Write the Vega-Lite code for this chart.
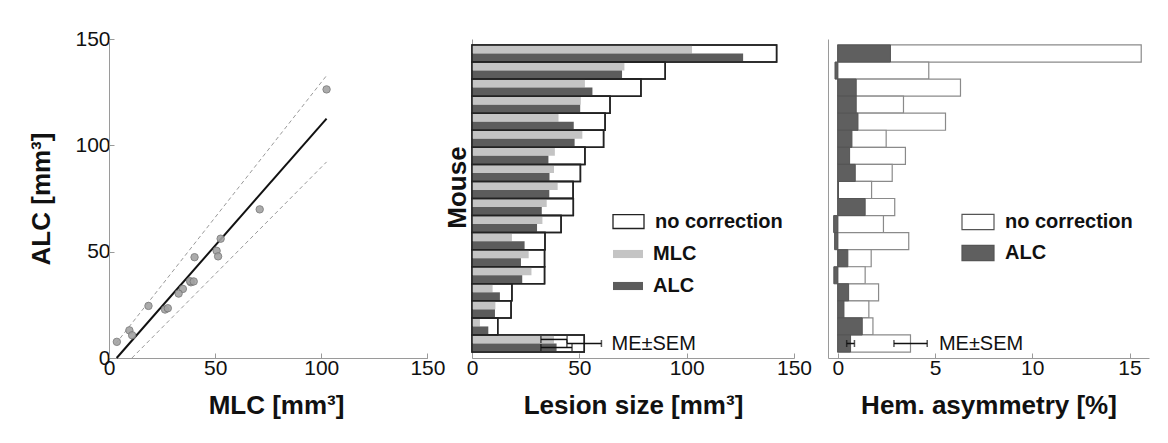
{
  "$schema": "https://vega.github.io/schema/vega-lite/v6.json",
  "background": "white",
  "padding": {"left": 28, "top": 28, "right": 5, "bottom": 5},
  "bounds": "flush",
  "spacing": 34,
  "datasets": {
    "mice": [
      {"mouse": "1", "NC": 141.9, "MLC": 102.5, "ALC": 126.3, "HNC": 15.6, "HALC": 2.71},
      {"mouse": "2", "NC": 90.0, "MLC": 71.0, "ALC": 69.9, "HNC": 4.68, "HALC": -0.14},
      {"mouse": "3", "NC": 78.7, "MLC": 52.6, "ALC": 56.1, "HNC": 6.31, "HALC": 0.95},
      {"mouse": "4", "NC": 64.3, "MLC": 50.7, "ALC": 50.4, "HNC": 3.38, "HALC": 0.95},
      {"mouse": "5", "NC": 62.0, "MLC": 40.3, "ALC": 47.4, "HNC": 5.54, "HALC": 1.04},
      {"mouse": "6", "NC": 61.3, "MLC": 51.4, "ALC": 47.8, "HNC": 2.49, "HALC": 0.73},
      {"mouse": "7", "NC": 52.6, "MLC": 38.6, "ALC": 35.6, "HNC": 3.48, "HALC": 0.61},
      {"mouse": "8", "NC": 50.5, "MLC": 38.2, "ALC": 36.1, "HNC": 2.8, "HALC": 0.9},
      {"mouse": "9", "NC": 47.1, "MLC": 39.9, "ALC": 36.0, "HNC": 1.74, "HALC": 0.04},
      {"mouse": "10", "NC": 47.2, "MLC": 34.8, "ALC": 32.5, "HNC": 2.93, "HALC": 1.41},
      {"mouse": "11", "NC": 41.5, "MLC": 32.8, "ALC": 30.3, "HNC": 2.35, "HALC": -0.21},
      {"mouse": "12", "NC": 34.0, "MLC": 18.6, "ALC": 24.5, "HNC": 3.65, "HALC": -0.16},
      {"mouse": "13", "NC": 33.8, "MLC": 26.4, "ALC": 22.8, "HNC": 1.72, "HALC": 0.52},
      {"mouse": "14", "NC": 33.8, "MLC": 27.7, "ALC": 23.4, "HNC": 1.41, "HALC": -0.2},
      {"mouse": "15", "NC": 18.6, "MLC": 9.6, "ALC": 13.0, "HNC": 2.1, "HALC": 0.56},
      {"mouse": "16", "NC": 18.2, "MLC": 10.9, "ALC": 10.7, "HNC": 1.6, "HALC": 0.32},
      {"mouse": "17", "NC": 12.0, "MLC": 3.7, "ALC": 7.6, "HNC": 1.81, "HALC": 1.26},
      {"mouse": "ME", "NC": 52.3, "MLC": 38.2, "ALC": 39.4, "HNC": 3.74, "HALC": 0.66}
    ],
    "lines": [
      {"line": "fit", "x": 3.6, "y": 0},
      {"line": "fit", "x": 102.5, "y": 112.6},
      {"line": "upper", "x": 3.2, "y": 6.7},
      {"line": "upper", "x": 102.5, "y": 132.8},
      {"line": "lower", "x": 10.8, "y": 0},
      {"line": "lower", "x": 102.5, "y": 92.2}
    ],
    "errMid": [
      {"mouse": "ME", "series": "MLC", "lo": 32.1, "hi": 44.3},
      {"mouse": "ME", "series": "ALC", "lo": 32.1, "hi": 46.6},
      {"mouse": "ME", "series": "no correction", "lo": 44.2, "hi": 60.3}
    ],
    "errRight": [
      {"mouse": "ME", "series": "ALC", "lo": 0.46, "hi": 0.86},
      {"mouse": "ME", "series": "no correction", "lo": 2.89, "hi": 4.6}
    ],
    "notes": [
      {"mouse": "ME", "panel": "mid", "x": 65, "label": "ME±SEM"},
      {"mouse": "ME", "panel": "right", "x": 5.2, "label": "ME±SEM"}
    ]
  },
  "config": {
    "font": "Liberation Sans",
    "view": {"stroke": null},
    "axis": {
      "grid": false,
      "domainColor": "#9a9a9a",
      "tickColor": "#9a9a9a",
      "tickSize": -5,
      "labelFont": "Liberation Sans",
      "labelFontSize": 21,
      "labelColor": "#111111",
      "labelPadding": 4,
      "labelFlush": false,
      "labelOverlap": false,
      "titleFont": "Liberation Sans",
      "titleFontSize": 26,
      "titleFontWeight": "bold",
      "titleColor": "#111111"
    },
    "legend": {
      "labelFont": "Liberation Sans",
      "labelFontSize": 20,
      "labelFontWeight": "bold",
      "labelColor": "#111111",
      "labelOffset": 10,
      "padding": 0,
      "rowPadding": 2,
      "title": null
    }
  },
  "resolve": {
    "scale": {"fill": "independent", "stroke": "independent", "yOffset": "independent", "x": "independent", "y": "independent"},
    "legend": {"fill": "independent", "stroke": "independent"}
  },
  "hconcat": [
    {
      "width": 329,
      "height": 319,
      "layer": [
        {
          "data": {"name": "lines"},
          "transform": [{"filter": "datum.line !== 'fit'"}],
          "mark": {"type": "line", "stroke": "#9a9a9a", "strokeWidth": 1, "strokeDash": [4, 3]},
          "encoding": {
            "x": {"field": "x", "type": "quantitative", "scale": {"domain": [0, 150], "range": [0, 318.4], "nice": false},
                  "axis": {"values": [0, 50, 100, 150], "title": "MLC [mm³]", "titlePadding": 14, "titleX": 167}},
            "y": {"field": "y", "type": "quantitative", "scale": {"domain": [0, 150], "nice": false},
                  "axis": {"values": [0, 50, 100, 150], "title": "ALC [mm³]", "titlePadding": 20}},
            "detail": {"field": "line"}
          }
        },
        {
          "data": {"name": "lines"},
          "transform": [{"filter": "datum.line === 'fit'"}],
          "mark": {"type": "line", "stroke": "#111111", "strokeWidth": 2},
          "encoding": {
            "x": {"field": "x", "type": "quantitative"},
            "y": {"field": "y", "type": "quantitative"}
          }
        },
        {
          "data": {"name": "mice"},
          "transform": [{"filter": "datum.mouse !== 'ME'"}],
          "mark": {"type": "circle", "size": 55, "fill": "#a3a3a3", "stroke": "#7a7a7a", "strokeWidth": 1, "opacity": 0.9},
          "encoding": {
            "x": {"field": "MLC", "type": "quantitative"},
            "y": {"field": "ALC", "type": "quantitative"}
          }
        }
      ]
    },
    {
      "width": 322,
      "height": 319,
      "layer": [
        {
          "data": {"name": "mice"},
          "mark": {"type": "bar", "fill": "#ffffff", "strokeWidth": 1.5},
          "encoding": {
            "y": {"field": "mouse", "type": "nominal", "sort": null,
                  "scale": {"domain": ["1","2","3","4","5","6","7","8","9","10","11","12","13","14","15","16","17","ME"], "paddingInner": 0, "paddingOuter": 0.35},
                  "axis": {"title": "Mouse", "labels": false, "ticks": false, "titlePadding": 2, "titleY": 148}},
            "x": {"field": "NC", "type": "quantitative", "scale": {"domain": [0, 150], "nice": false},
                  "axis": {"values": [0, 50, 100, 150], "title": "Lesion size [mm³]", "titlePadding": 14}},
            "stroke": {"datum": "no correction", "type": "nominal",
                       "scale": {"domain": ["no correction"], "range": ["#222222"]},
                       "legend": {"title": null, "orient": "none", "legendX": 140, "legendY": 166, "symbolSize": 961,
                                  "symbolType": "M-1,-0.45H1V0.45H-1Z", "symbolFillColor": "#ffffff", "symbolStrokeWidth": 1.3}}
          }
        },
        {
          "data": {"name": "mice"},
          "transform": [{"fold": ["MLC", "ALC"], "as": ["series", "value"]}],
          "mark": {"type": "bar"},
          "encoding": {
            "y": {"field": "mouse", "type": "nominal", "sort": null},
            "yOffset": {"field": "series", "type": "nominal", "sort": null, "scale": {"domain": ["MLC", "ALC"], "paddingInner": 0, "paddingOuter": 0.05}},
            "x": {"field": "value", "type": "quantitative"},
            "fill": {"field": "series", "type": "nominal",
                     "scale": {"domain": ["MLC", "ALC"], "range": ["#c4c4c4", "#5c5c5c"]},
                     "legend": {"title": null, "orient": "none", "legendX": 141, "legendY": 200, "symbolSize": 900, "rowPadding": 7,
                                "symbolType": "M-1,-0.27H1V0.27H-1Z", "symbolStrokeWidth": 0}}
          }
        },
        {
          "data": {"name": "mice"},
          "mark": {"type": "bar", "fillOpacity": 0, "stroke": "#222222", "strokeWidth": 1.5},
          "encoding": {
            "y": {"field": "mouse", "type": "nominal", "sort": null},
            "x": {"field": "NC", "type": "quantitative"}
          }
        },
        {
          "data": {"name": "errMid"},
          "transform": [{"filter": "datum.series !== 'no correction'"}],
          "mark": {"type": "rule", "color": "#111111", "strokeWidth": 1.5},
          "encoding": {
            "y": {"field": "mouse", "type": "nominal", "sort": null},
            "yOffset": {"field": "series", "type": "nominal", "sort": null},
            "x": {"field": "lo", "type": "quantitative"},
            "x2": {"field": "hi"}
          }
        },
        {
          "data": {"name": "errMid"},
          "transform": [{"filter": "datum.series !== 'no correction'"}, {"fold": ["lo", "hi"], "as": ["end", "xv"]}],
          "mark": {"type": "tick", "color": "#111111", "thickness": 1.5, "size": 7},
          "encoding": {
            "y": {"field": "mouse", "type": "nominal", "sort": null},
            "yOffset": {"field": "series", "type": "nominal", "sort": null},
            "x": {"field": "xv", "type": "quantitative"}
          }
        },
        {
          "data": {"name": "errMid"},
          "transform": [{"filter": "datum.series === 'no correction'"}],
          "mark": {"type": "rule", "color": "#111111", "strokeWidth": 1.5},
          "encoding": {
            "y": {"field": "mouse", "type": "nominal", "sort": null},
            "x": {"field": "lo", "type": "quantitative"},
            "x2": {"field": "hi"}
          }
        },
        {
          "data": {"name": "errMid"},
          "transform": [{"filter": "datum.series === 'no correction'"}, {"fold": ["lo", "hi"], "as": ["end", "xv"]}],
          "mark": {"type": "tick", "color": "#111111", "thickness": 1.5, "size": 7},
          "encoding": {
            "y": {"field": "mouse", "type": "nominal", "sort": null},
            "x": {"field": "xv", "type": "quantitative"}
          }
        },
        {
          "data": {"name": "notes"},
          "transform": [{"filter": "datum.panel === 'mid'"}],
          "mark": {"type": "text", "align": "left", "baseline": "middle", "fontSize": 20, "color": "#111111", "font": "Liberation Sans"},
          "encoding": {
            "y": {"field": "mouse", "type": "nominal", "sort": null},
            "x": {"field": "x", "type": "quantitative"},
            "text": {"field": "label"}
          }
        }
      ]
    },
    {
      "width": 321,
      "height": 319,
      "layer": [
        {
          "data": {"name": "mice"},
          "mark": {"type": "bar", "stroke": "#8a8a8a", "strokeWidth": 1.2},
          "encoding": {
            "y": {"field": "mouse", "type": "nominal", "sort": null,
                  "scale": {"domain": ["1","2","3","4","5","6","7","8","9","10","11","12","13","14","15","16","17","ME"], "paddingInner": 0, "paddingOuter": 0.35},
                  "axis": {"title": null, "labels": false, "ticks": false}},
            "x": {"field": "HNC", "type": "quantitative", "scale": {"domain": [-0.5, 16], "nice": false, "zero": false},
                  "axis": {"values": [0, 5, 10, 15], "title": "Hem. asymmetry [%]", "titlePadding": 14}},
            "fill": {"datum": "no correction", "type": "nominal",
                     "scale": {"domain": ["no correction", "ALC"], "range": ["#ffffff", "#5f5f5f"]},
                     "legend": {"title": null, "orient": "none", "legendX": 133, "legendY": 166, "symbolSize": 1024, "rowPadding": 3,
                                "symbolType": "M-1,-0.48H1V0.48H-1Z", "symbolStrokeColor": "#8a8a8a", "symbolStrokeWidth": 1.2}}
          }
        },
        {
          "data": {"name": "mice"},
          "mark": {"type": "bar", "stroke": "#555555", "strokeWidth": 1},
          "encoding": {
            "y": {"field": "mouse", "type": "nominal", "sort": null},
            "x": {"field": "HALC", "type": "quantitative"},
            "fill": {"datum": "ALC", "type": "nominal"}
          }
        },
        {
          "mark": {"type": "rule", "color": "#111111", "strokeWidth": 3},
          "encoding": {
            "x": {"datum": 0, "type": "quantitative"}
          }
        },
        {
          "data": {"name": "errRight"},
          "mark": {"type": "rule", "color": "#111111", "strokeWidth": 1.5},
          "encoding": {
            "y": {"field": "mouse", "type": "nominal", "sort": null},
            "x": {"field": "lo", "type": "quantitative"},
            "x2": {"field": "hi"}
          }
        },
        {
          "data": {"name": "errRight"},
          "transform": [{"fold": ["lo", "hi"], "as": ["end", "xv"]}],
          "mark": {"type": "tick", "color": "#111111", "thickness": 1.5, "size": 7},
          "encoding": {
            "y": {"field": "mouse", "type": "nominal", "sort": null},
            "x": {"field": "xv", "type": "quantitative"}
          }
        },
        {
          "data": {"name": "notes"},
          "transform": [{"filter": "datum.panel === 'right'"}],
          "mark": {"type": "text", "align": "left", "baseline": "middle", "fontSize": 20, "color": "#111111", "font": "Liberation Sans"},
          "encoding": {
            "y": {"field": "mouse", "type": "nominal", "sort": null},
            "x": {"field": "x", "type": "quantitative"},
            "text": {"field": "label"}
          }
        }
      ]
    }
  ]
}
